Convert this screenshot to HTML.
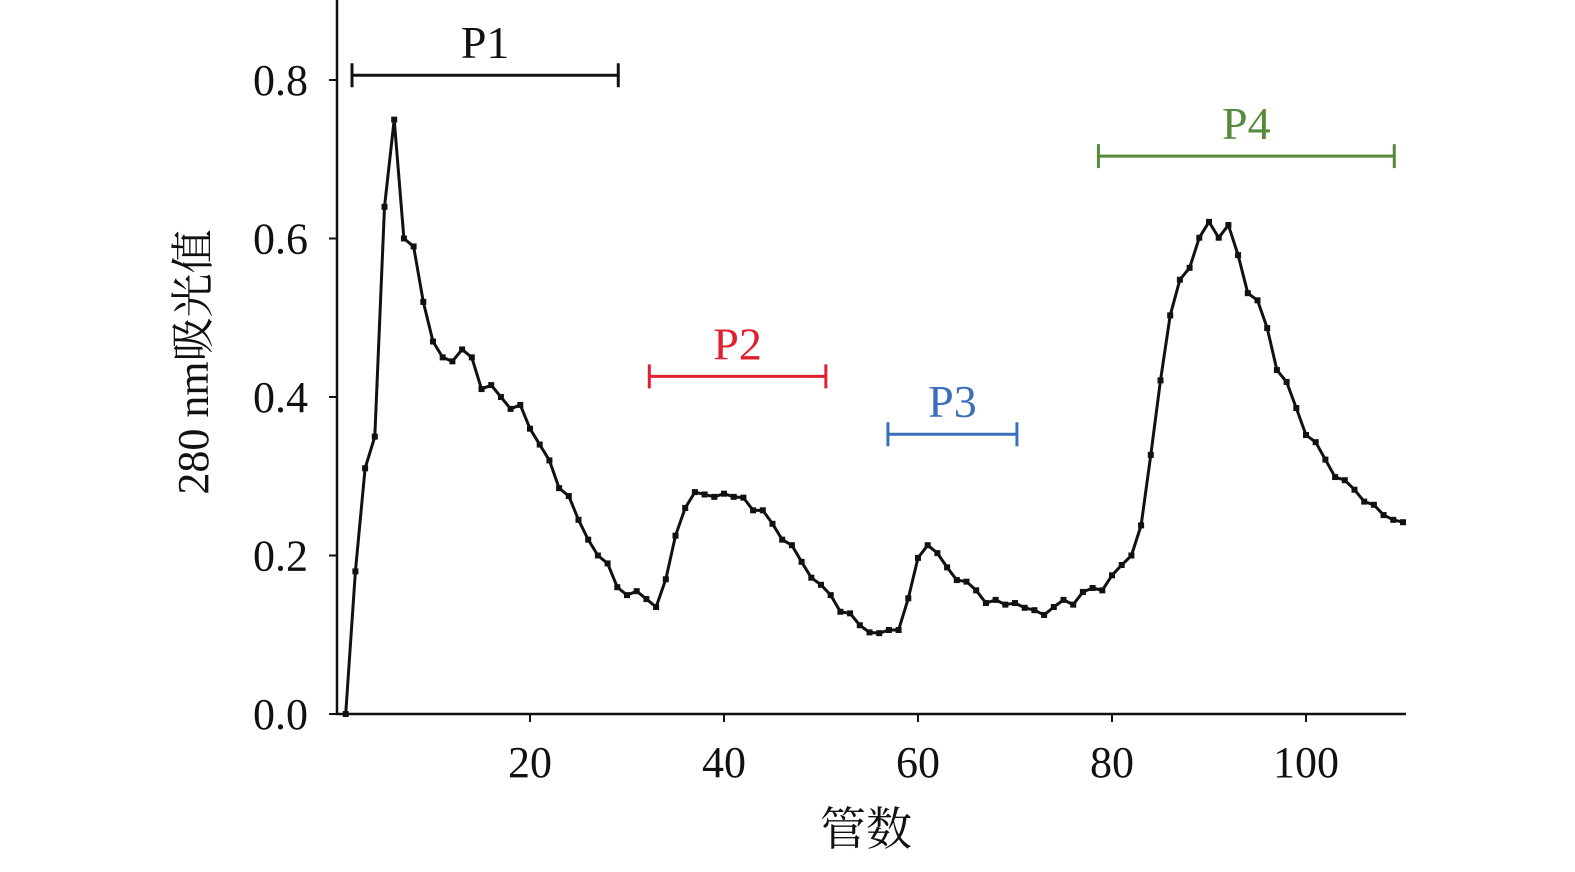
<!DOCTYPE html>
<html><head><meta charset="utf-8"><style>
body{margin:0;background:#fff}
svg text{font-family:"Liberation Serif","Times New Roman","Noto Serif CJK SC",serif}
</style></head><body>
<svg id="chart" width="1575" height="867" xmlns="http://www.w3.org/2000/svg"></svg>
<script>
const tubes=[];for(let i=1;i<=110;i++)tubes.push(i);
const absorbance=[0.0,0.18,0.31,0.35,0.64,0.75,0.60,0.59,0.52,0.47,0.45,0.445,0.46,0.45,0.41,0.415,0.40,0.385,0.39,0.36,0.34,0.32,0.285,0.275,0.245,0.22,0.20,0.19,0.16,0.15,0.155,0.145,0.135,0.17,0.225,0.26,0.28,0.277,0.274,0.278,0.274,0.273,0.257,0.257,0.24,0.22,0.213,0.192,0.172,0.163,0.15,0.129,0.127,0.112,0.103,0.102,0.106,0.106,0.146,0.197,0.213,0.203,0.185,0.169,0.167,0.156,0.14,0.144,0.138,0.14,0.134,0.131,0.125,0.135,0.144,0.138,0.154,0.159,0.156,0.175,0.188,0.2,0.238,0.327,0.421,0.503,0.548,0.563,0.601,0.621,0.601,0.617,0.579,0.531,0.522,0.487,0.434,0.419,0.386,0.352,0.343,0.321,0.299,0.295,0.283,0.268,0.264,0.251,0.245,0.242];
const xTicks=[20,40,60,80,100];
const yTicks=[0.0,0.2,0.4,0.6,0.8];
const yTickLabels=["0.0","0.2","0.4","0.6","0.8"];
const rangeNames=["P1","P2","P3","P4"];
const rangeStart=[1.65,32.3,56.9,78.6];
const rangeEnd=[29.1,50.5,70.2,109.1];
const rangeLevel=[0.806,0.426,0.353,0.704];
const rangeColors=["#111","#e0202f","#3a6fba","#558a3c"];
const NS="http://www.w3.org/2000/svg";
const svg=document.getElementById('chart');
const FF='"Liberation Serif","Times New Roman","Noto Serif CJK SC",serif';
const X=v=>336+v*9.7, Y=v=>714-v*792.5;
function el(t,a,txt){const e=document.createElementNS(NS,t);for(const k in a)e.setAttribute(k,a[k]);if(txt!=null){e.textContent=txt;e.setAttribute('font-family',FF);}svg.appendChild(e);return e;}
let e=el('line',{x1:337,y1:0,x2:337,y2:715,stroke:'#111','stroke-width':2.5});

e=el('line',{x1:336,y1:714,x2:1406,y2:714,stroke:'#111','stroke-width':2.5});

yTicks.forEach((v,i)=>{
 e=el('line',{x1:329,y1:Y(v),x2:337,y2:Y(v),stroke:'#111','stroke-width':2});
 
 e=el('text',{x:308,y:Y(v)+15,'text-anchor':'end','font-size':44,fill:'#111'},yTickLabels[i]);
 
});
xTicks.forEach(v=>{
 e=el('line',{x1:X(v),y1:714,x2:X(v),y2:722,stroke:'#111','stroke-width':2});
 
 e=el('text',{x:X(v),y:777,'text-anchor':'middle','font-size':44,fill:'#111'},String(v));
 
});
e=el('text',{x:866,y:845,'text-anchor':'middle','font-size':46,fill:'#111'},'管数');

e=el('text',{x:0,y:0,'text-anchor':'middle','font-size':44,fill:'#111',transform:'translate(208,362) rotate(-90)'},'280 nm吸光值');

const pts=tubes.map((t,i)=>X(t)+','+Y(absorbance[i])).join(' ');
e=el('polyline',{points:pts,fill:'none',stroke:'#111','stroke-width':3,'stroke-linejoin':'round'});

tubes.forEach((t,i)=>{
 e=el('rect',{x:X(t)-3,y:Y(absorbance[i])-3,width:6,height:6,fill:'#111'});
 
});
rangeNames.forEach((n,i)=>{
 const y=Y(rangeLevel[i]),x1=X(rangeStart[i]),x2=X(rangeEnd[i]),c=rangeColors[i];
 e=el('path',{d:`M${x1},${y}H${x2}M${x1},${y-12}V${y+12}M${x2},${y-12}V${y+12}`,stroke:c,'stroke-width':3,fill:'none'});
 
 e=el('text',{x:(x1+x2)/2,y:y-17,'text-anchor':'middle','font-size':46,fill:c},n);
 
});
</script>
</body></html>
